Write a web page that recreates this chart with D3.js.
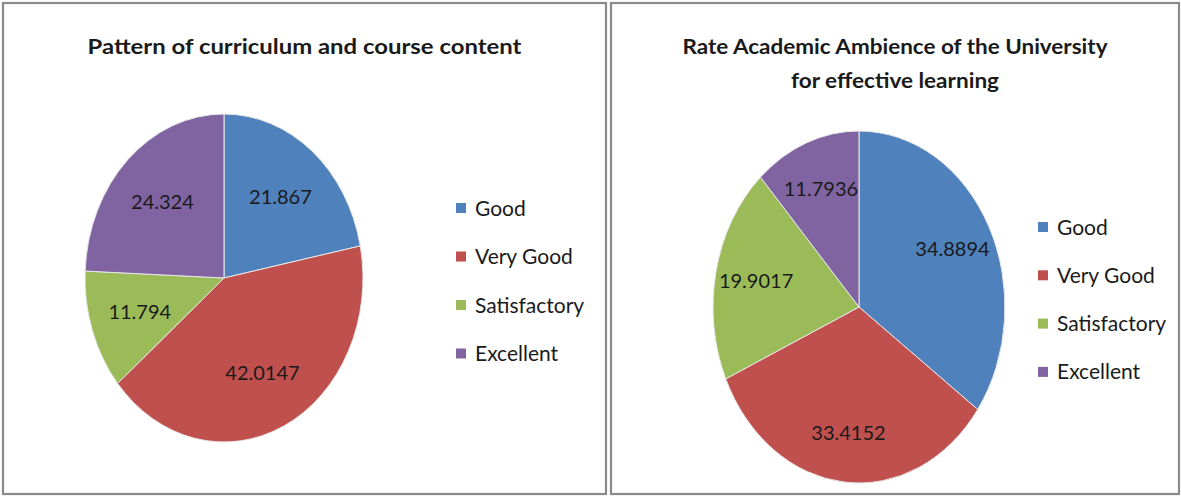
<!DOCTYPE html>
<html>
<head>
<meta charset="utf-8">
<script src="https://cdn.jsdelivr.net/npm/d3@7"></script>
<style>
  html, body { margin: 0; padding: 0; background: #fff; }
  svg { display: block; }
  text { font-family: Lato, "Open Sans", "Noto Sans", sans-serif; fill: #1a1a1a; }
</style>
</head>
<body>
<svg id="chart" width="1181" height="497"></svg>
<script>
// ---- data ----
const categories = ["Good", "Very Good", "Satisfactory", "Excellent"];
const colors = ["#4F81BD", "#C0504D", "#9BBB59", "#8064A2"];

const curriculumTitle = ["Pattern of curriculum and course content"];
const curriculumValues = [21.867, 42.0147, 11.794, 24.324];
const curriculumLabels = ["21.867", "42.0147", "11.794", "24.324"];

const ambienceTitle = ["Rate Academic Ambience of the University", "for effective learning"];
const ambienceValues = [34.8894, 33.4152, 19.9017, 11.7936];
const ambienceLabels = ["34.8894", "33.4152", "19.9017", "11.7936"];

// ---- layout ----
const svg = d3.select("#chart");
svg.append("rect").attr("width", 1181).attr("height", 497).attr("fill", "#fff");

const panels = [
  { x0: 3, x1: 606, title: curriculumTitle, titleY: [54], titleW: [434],
    values: curriculumValues, labels: curriculumLabels,
    cx: 224, cy: 278, rx: 139, ry: 164, labelR: 0.64,
    legX: 456, legY: 208, legStep: 48.5 },
  { x0: 611, x1: 1179, title: ambienceTitle, titleY: [54, 88], titleW: [425, 208],
    values: ambienceValues, labels: ambienceLabels,
    cx: 859, cy: 307, rx: 146, ry: 176, labelR: 0.72,
    legX: 1038, legY: 227, legStep: 48.3 }
];

const pie = d3.pie().sort(null).value(d => d).startAngle(0).endAngle(2 * Math.PI);

panels.forEach(p => {
  const g = svg.append("g");
  // panel border
  g.append("rect")
    .attr("x", p.x0).attr("y", 3)
    .attr("width", p.x1 - p.x0).attr("height", 491)
    .attr("fill", "none").attr("stroke", "#8a8a8a").attr("stroke-width", 2.2);

  // title
  const cxPanel = (p.x0 + p.x1) / 2;
  p.title.forEach((t, i) => {
    g.append("text")
      .attr("x", cxPanel).attr("y", p.titleY[i])
      .attr("text-anchor", "middle")
      .attr("font-size", 21).attr("font-weight", "bold")
      .attr("textLength", p.titleW[i]).attr("lengthAdjust", "spacingAndGlyphs")
      .text(t);
  });

  // pie (ellipse via scaling)
  const arcs = pie(p.values);
  const arc = d3.arc().innerRadius(0).outerRadius(p.rx);
  const sy = p.ry / p.rx;
  const pg = g.append("g").attr("transform", `translate(${p.cx},${p.cy}) scale(1,${sy})`);
  pg.selectAll("path").data(arcs).join("path")
    .attr("d", arc)
    .attr("fill", (d, i) => colors[i])
    .attr("stroke", "#e8e8e8").attr("stroke-width", 1)
    .attr("vector-effect", "non-scaling-stroke");

  // value labels
  const labelArc = d3.arc().innerRadius(p.rx * p.labelR).outerRadius(p.rx * p.labelR);
  g.selectAll("text.val").data(arcs).join("text")
    .attr("class", "val")
    .attr("x", d => p.cx + labelArc.centroid(d)[0])
    .attr("y", d => p.cy + labelArc.centroid(d)[1] * sy)
    .attr("dy", "0.35em")
    .attr("text-anchor", "middle")
    .attr("font-size", 20)
    .text((d, i) => p.labels[i]);

  // legend
  const lg = g.selectAll("g.leg").data(categories).join("g")
    .attr("class", "leg")
    .attr("transform", (d, i) => `translate(${p.legX},${p.legY + i * p.legStep})`);
  lg.append("rect").attr("x", 0).attr("y", -5).attr("width", 10).attr("height", 10)
    .attr("fill", (d, i) => colors[i]);
  lg.append("text").attr("x", 19).attr("y", 0).attr("dy", "0.36em")
    .attr("font-size", 21).text(d => d);
});
</script>
</body>
</html>
